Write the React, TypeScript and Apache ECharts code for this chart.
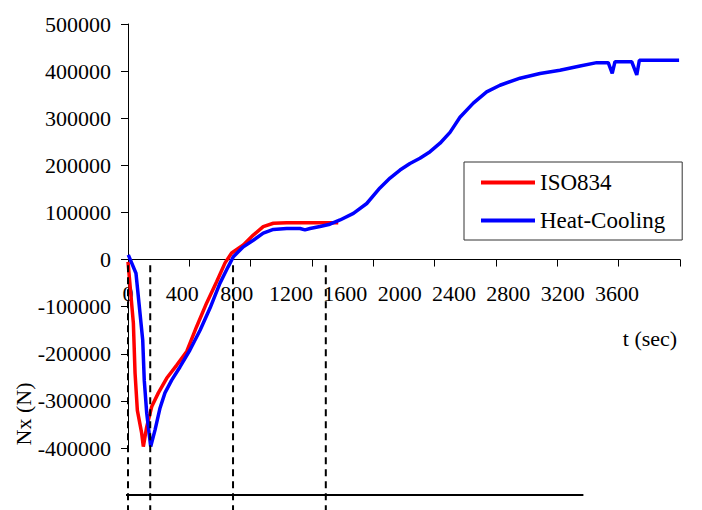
import React, { useEffect, useRef } from "react";
import * as echarts from "echarts";

// ISO834 curve: time (s) and axial force Nx (N)
const isoTime = [0, 35, 46, 61, 89, 100, 122, 155, 198, 252, 318, 383, 448, 513, 578, 633, 676, 752, 817, 882, 948, 1035, 1371];
const isoForce = [-5000, -135000, -241000, -320000, -368000, -397000, -355000, -312000, -283000, -252000, -224000, -195000, -142000, -92000, -47000, -7000, 14000, 31000, 52000, 70000, 77000, 78000, 78000];

// Heat-Cooling curve
const hcTime = [2, 52, 96, 106, 122, 148, 176, 209, 241, 285, 339, 404, 470, 535, 600, 652, 687, 752, 817, 882, 948, 1035, 1122, 1154, 1187, 1252, 1317, 1383, 1470, 1557, 1643, 1709, 1774, 1839, 1904, 1970, 2035, 2100, 2165, 2252, 2339, 2426, 2557, 2687, 2817, 2948, 3057, 3132, 3158, 3176, 3285, 3318, 3335, 3594];
const hcForce = [10000, -29000, -171000, -256000, -326000, -397000, -362000, -315000, -283000, -256000, -228000, -192000, -150000, -103000, -50000, -16000, 6000, 27000, 41000, 56000, 64000, 66000, 66000, 63000, 66000, 70000, 75000, 84000, 98000, 119000, 152000, 173000, 190000, 204000, 215000, 229000, 247000, 270000, 302000, 332000, 356000, 370000, 385000, 395000, 402000, 411000, 418000, 418000, 395000, 420000, 420000, 392000, 423000, 423000];

// Phase markers below the chart
const phaseTimes = [0, 145, 685, 1290];
const timelineEnd = 2970;
const timelineLevel = -500000;
const dashTop = -12000;
const dashBottom = -545000;

const FONT = '"Liberation Serif", "Times New Roman", serif';

export default function App() {
  const ref = useRef<HTMLDivElement>(null);

  useEffect(() => {
    const chart = echarts.init(ref.current!, null, { renderer: "svg" });
    chart.setOption({
      animation: false,
      backgroundColor: "#ffffff",
      textStyle: { fontFamily: FONT },
      grid: [
        { left: 128, right: 22, top: 24, bottom: 62, containLabel: false },
        { left: 128, right: 85, top: 24, bottom: 62, containLabel: false },
      ],
      legend: {
        data: ["ISO834", "Heat-Cooling"],
        orient: "vertical",
        left: 464,
        top: 162,
        icon: "rect",
        itemWidth: 54,
        itemHeight: 4,
        itemGap: 15,
        padding: [9, 17, 8, 17],
        borderColor: "#333333",
        borderWidth: 1,
        backgroundColor: "#ffffff",
        textStyle: { fontFamily: FONT, fontSize: 23, color: "#000000" },
      },
      xAxis: [
        {
          type: "value",
          gridIndex: 0,
          min: 0,
          max: 3600,
          interval: 400,
          position: "bottom",
          axisLine: { show: true, onZero: true, lineStyle: { color: "#000000", width: 1 } },
          axisTick: { show: true, length: 7, lineStyle: { color: "#000000" } },
          axisLabel: { show: false },
          splitLine: { show: false },
        },
        {
          type: "value",
          gridIndex: 1,
          min: 0,
          max: 3600,
          interval: 400,
          position: "bottom",
          offset: -188,
          axisLine: { show: false, onZero: false },
          axisTick: { show: false },
          splitLine: { show: false },
          axisLabel: {
            margin: 22,
            fontFamily: FONT,
            fontSize: 22,
            color: "#000000",
            formatter: (v: number) => String(v),
          },
        },
      ],
      yAxis: [
        {
          type: "value",
          gridIndex: 0,
          min: -400000,
          max: 500000,
          interval: 100000,
          axisLine: { show: true, onZero: false, lineStyle: { color: "#000000", width: 1 } },
          axisTick: { show: true, length: 7, lineStyle: { color: "#000000" } },
          axisLabel: {
            margin: 17,
            fontFamily: FONT,
            fontSize: 22,
            color: "#000000",
            formatter: (v: number) => String(v),
          },
          splitLine: { show: false },
        },
        {
          type: "value",
          gridIndex: 1,
          min: -400000,
          max: 500000,
          show: false,
          splitLine: { show: false },
        },
      ],
      series: [
        {
          name: "ISO834",
          type: "line",
          xAxisIndex: 0,
          yAxisIndex: 0,
          data: isoTime.map((t, i) => [t, isoForce[i]]),
          symbol: "none",
          showSymbol: false,
          lineStyle: { color: "#ff0000", width: 3.5 },
          itemStyle: { color: "#ff0000" },
        },
        {
          name: "Heat-Cooling",
          type: "line",
          xAxisIndex: 0,
          yAxisIndex: 0,
          data: hcTime.map((t, i) => [t, hcForce[i]]),
          symbol: "none",
          showSymbol: false,
          lineStyle: { color: "#0000ff", width: 3.5 },
          itemStyle: { color: "#0000ff" },
        },
      ],
    });

    const toPx = (t: number, v: number) =>
      chart.convertToPixel({ xAxisIndex: 0, yAxisIndex: 0 }, [t, v]) as number[];

    const graphics: any[] = [];
    phaseTimes.forEach((t) => {
      const a = toPx(t, dashTop);
      const b = toPx(t, dashBottom);
      graphics.push({
        type: "line",
        shape: { x1: a[0], y1: a[1], x2: b[0], y2: b[1] },
        style: { stroke: "#000000", lineWidth: 2, lineDash: [7, 5] },
        z: 10,
      });
    });
    const l0 = toPx(phaseTimes[0], timelineLevel);
    const l1 = toPx(timelineEnd, timelineLevel);
    graphics.push({
      type: "line",
      shape: { x1: l0[0] - 2, y1: l0[1], x2: l1[0], y2: l1[1] },
      style: { stroke: "#000000", lineWidth: 2 },
      z: 10,
    });
    graphics.push({
      type: "text",
      x: 650,
      y: 338,
      style: {
        text: "t (sec)",
        fontFamily: FONT,
        fontSize: 22,
        fill: "#000000",
        textAlign: "center",
        textVerticalAlign: "middle",
      },
    });
    graphics.push({
      type: "text",
      x: 23,
      y: 414,
      rotation: Math.PI / 2,
      style: {
        text: "Nx (N)",
        fontFamily: FONT,
        fontSize: 22,
        fill: "#000000",
        textAlign: "center",
        textVerticalAlign: "middle",
      },
    });
    chart.setOption({ graphic: graphics });

    return () => chart.dispose();
  }, []);

  return (
    <div
      ref={ref}
      style={{ position: "absolute", left: 0, top: 0, width: 702, height: 510 }}
    />
  );
}
